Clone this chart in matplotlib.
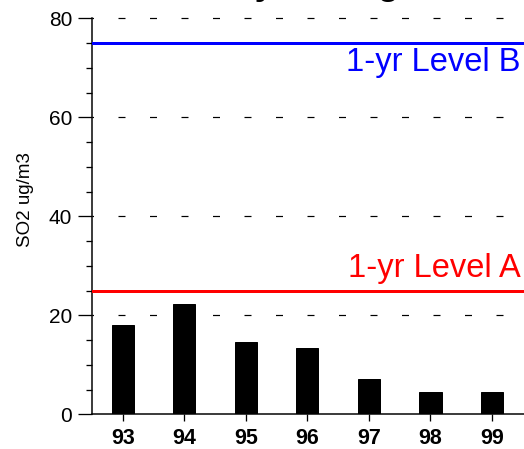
import matplotlib
matplotlib.use("Agg")
import matplotlib.pyplot as plt
from matplotlib.ticker import MultipleLocator

plt.rcParams["font.family"] = ["Liberation Sans", "DejaVu Sans"]
plt.rcParams["lines.scale_dashes"] = False

years = ["93", "94", "95", "96", "97", "98", "99"]
so2 = [18.1, 22.2, 14.7, 13.4, 7.2, 4.5, 4.5]
level_a = 25
level_b = 75
level_a_label = "1-yr Level A"
level_b_label = "1-yr Level B"
y_label = "SO2 ug/m3"
title = "SO2 Yearly Average"

W, H, DPI = 524, 449, 100
fig = plt.figure(figsize=(W / DPI, H / DPI), dpi=DPI)
px = 72.0 / DPI  # one pixel in points

left, right = 92 / W, 1.0
bottom, top = (H - 414.3) / H, (H - 18.3) / H
ax = fig.add_axes([left, bottom, right - left, top - bottom])

x = [int(y) for y in years]
ax.bar(x, so2, width=0.36, color="black", edgecolor="black", linewidth=1 * px, zorder=3)

# dashed horizontal grid at the major ticks
for g in [20, 40, 60, 80]:
    ax.axhline(g, color="black", linewidth=1.2 * px,
               linestyle=(5.5 * px, (7 * px, 24.5 * px)), zorder=1, clip_on=False)

ax.axhline(level_b, color="#0000ff", linewidth=3 * px, zorder=4)
ax.axhline(level_a, color="#ff0000", linewidth=3 * px, zorder=4)

ax.text(99.46, 69.3, level_b_label, color="#0000ff", fontsize=23.5,
        ha="right", va="baseline")
ax.text(99.46, 27.8, level_a_label, color="#ff0000", fontsize=23.5,
        ha="right", va="baseline")

ax.set_xlim(92.5, 99.52)
ax.set_ylim(0, 80)
ax.set_xticks(x)
ax.set_xticklabels(years, fontsize=15.5, fontweight="bold")
ax.yaxis.set_major_locator(MultipleLocator(20))
ax.yaxis.set_minor_locator(MultipleLocator(5))
ax.tick_params(axis="y", which="major", length=14 * px, width=1.3 * px,
               labelsize=15, pad=6 * px)
ax.tick_params(axis="y", which="minor", length=6 * px, width=1.3 * px)
ax.tick_params(axis="x", which="major", length=7 * px, width=1.3 * px, pad=7 * px)

for s in ["top", "right"]:
    ax.spines[s].set_visible(False)
for s in ["left", "bottom"]:
    ax.spines[s].set_linewidth(1.5 * px)

ax.set_ylabel(y_label, fontsize=13.5)
ax.yaxis.set_label_coords(-(92 - 34) / (W * (right - left)), (414.3 - 200) / 396)

fig.text(256 / W, 1 + 5 / H, title, fontsize=25, fontweight="bold",
         ha="center", va="baseline")

fig.savefig("out.png", dpi=DPI)
